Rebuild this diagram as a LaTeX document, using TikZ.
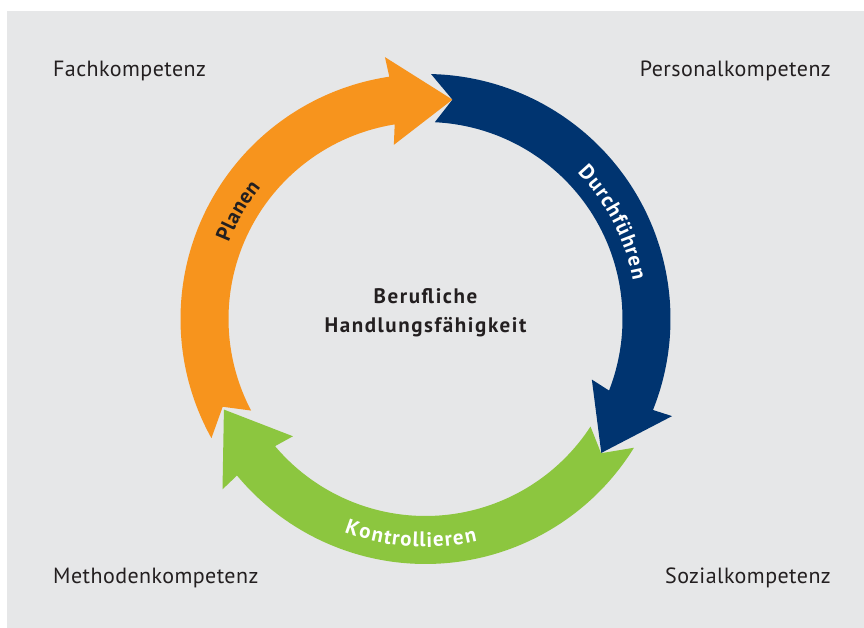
\documentclass[tikz,border=0pt]{standalone}
\usepackage{fontspec}
\setmainfont{PT Sans}
\usetikzlibrary{decorations.text}
\definecolor{bg}{HTML}{E6E7E8}
\definecolor{org}{HTML}{F7941D}
\definecolor{nvy}{HTML}{003470}
\definecolor{grn}{HTML}{8CC63F}
\definecolor{txt}{HTML}{231F20}
\newcommand\cycarrow[3]{% #1 tip angle, #2 tail angle, #3 colour
  \fill[#3] ({#2}:245) arc[start angle={#2}, end angle={#1+15.5}, radius=245]
    -- ({#1+15.8}:265) -- ({#1}:221) -- ({#1+17.3}:177) -- ({#1+16}:197)
    arc[start angle={#1+16}, end angle={#2-1.4}, radius=197]
    -- ({#2-5.7}:221) -- cycle;}
\newcommand\arcfont{\fontsize{21}{25}\selectfont\bfseries}
\tikzset{
  arctext/.style 2 args={decorate, decoration={text effects along path,
      text={#1}, text effects/.cd, text along path, fit text to path,
      characters={inner sep=0pt, text=#2, font=\arcfont}}}}
\begin{document}
\begin{tikzpicture}[x=1pt,y=1pt,
  lbl/.style={font=\fontsize{22}{26}\selectfont\addfontfeatures{LetterSpace=2}, text=txt, inner sep=0pt},
  ctr/.style={font=\fontsize{21}{25}\selectfont\bfseries\addfontfeatures{LetterSpace=7.5}, text=txt, inner sep=0pt}]
\useasboundingbox (0,0) rectangle (864,628);
\fill[white] (0,0) rectangle (864,628);
\fill[bg] (7,0) rectangle (864,617);
\begin{scope}[shift={(425.5,309)}]
  \cycarrow{83}{209.1}{org}
  \cycarrow{-37.3}{88.7}{nvy}
  \cycarrow{-155.8}{-31.7}{grn}
  \path[arctext={Planen}{txt}]
      (158.8:211) arc[start angle=158.8, end angle=141.3, radius=211];
  \path[arctext={Durchführen}{white}]
      (44:211) arc[start angle=44, end angle=10.5, radius=211];
  \path[arctext={Kontrollieren}{white}]
      (-110.9:228) arc[start angle=-110.9, end angle=-76.9, radius=228];
\end{scope}
\node[lbl, anchor=base west] (fach) at (53,551) {Fachkompetenz};
\node[lbl, anchor=base east] (pers) at (831,551) {Personalkompetenz};
\node[lbl, anchor=base west] (meth) at (53,44) {Methodenkompetenz};
\node[lbl, anchor=base east] (soz) at (831,44) {Sozialkompetenz};
\node[ctr, anchor=base] (ber) at (425.5,324) {Berufliche};
\node[ctr, anchor=base] (hand) at (425.5,295) {Handlungsfähigkeit};
\end{tikzpicture}
\end{document}
